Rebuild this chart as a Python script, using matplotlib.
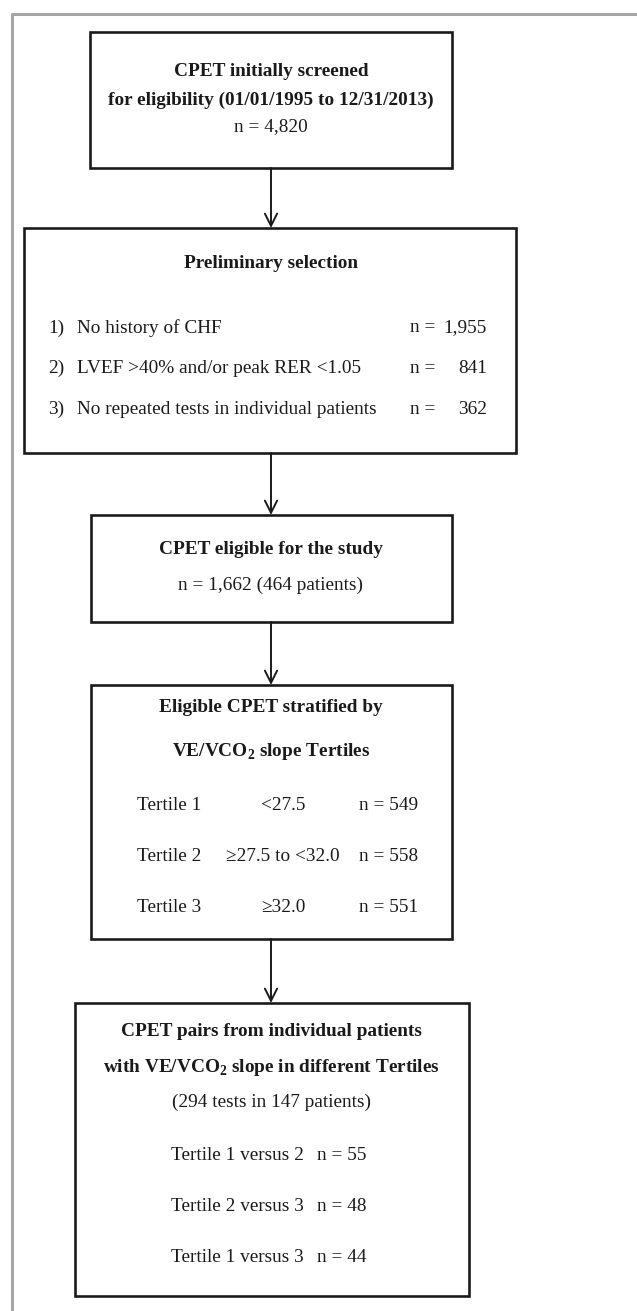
import matplotlib
matplotlib.use('Agg')
import matplotlib.pyplot as plt
from matplotlib.patches import Rectangle

plt.rcParams['font.family'] = ['Liberation Serif', 'DejaVu Serif']
plt.rcParams['mathtext.fontset'] = 'custom'
plt.rcParams['mathtext.rm'] = 'Liberation Serif'
plt.rcParams['mathtext.bf'] = 'Liberation Serif:bold'

# Inhalte der Kästen
screened_title = ['CPET initially screened', 'for eligibility (01/01/1995 to 12/31/2013)']
screened_n = 'n = 4,820'

prelim_title = 'Preliminary selection'
prelim_steps = ['No history of CHF', 'LVEF >40% and/or peak RER <1.05',
                'No repeated tests in individual patients']
prelim_n = ['1,955', '841', '362']

eligible_title = 'CPET eligible for the study'
eligible_n = 'n = 1,662 (464 patients)'

tertile_title = ['Eligible CPET stratified by', r'VE/VCO$_\mathbf{2}$ slope Tertiles']
tertile_names = ['Tertile 1', 'Tertile 2', 'Tertile 3']
tertile_ranges = ['<27.5', '≥27.5 to <32.0', '≥32.0']
tertile_n = [549, 558, 551]

pairs_title = ['CPET pairs from individual patients',
               r'with VE/VCO$_\mathbf{2}$ slope in different Tertiles']
pairs_sub = '(294 tests in 147 patients)'
pairs_names = ['Tertile 1 versus 2', 'Tertile 2 versus 3', 'Tertile 1 versus 3']
pairs_n = [55, 48, 44]

W, H = 637, 1311
fig = plt.figure(figsize=(W / 100, H / 100), dpi=100)
ax = fig.add_axes([0, 0, 1, 1])
ax.set_xlim(0, W)
ax.set_ylim(H, 0)
ax.axis('off')

FS = 13.9
CX = 271

# grauer Rahmen (oben und links)
ax.plot([12, 12, W], [H, 14, 14], color='#a6a6a6', lw=2.2, solid_capstyle='butt')

boxes = [(90, 32, 452, 168), (24, 228, 516, 453), (91, 515, 452, 622),
         (91, 685, 452, 939), (75, 1003, 469, 1296)]
for x0, y0, x1, y1 in boxes:
    ax.add_patch(Rectangle((x0, y0), x1 - x0, y1 - y0, fill=False,
                           ec='#1a1a1a', lw=1.9))

# Pfeile zwischen den Kästen
for (a, b) in zip(boxes[:-1], boxes[1:]):
    ax.annotate('', xy=(CX, b[1]), xytext=(CX, a[3]),
                arrowprops=dict(arrowstyle='->', color='#1a1a1a', lw=1.4,
                                mutation_scale=22, shrinkA=0, shrinkB=0))

def txt(x, y, s, ha='center', bold=False):
    ax.text(x, y, s, ha=ha, va='center', fontsize=FS,
            fontweight='bold' if bold else 'normal', color='#1a1a1a')

# Kasten 1
txt(CX, 72, screened_title[0], bold=True)
txt(CX, 100, screened_title[1], bold=True)
txt(CX, 127, screened_n)

# Kasten 2
txt(CX, 263, prelim_title, bold=True)
for i, (step, n) in enumerate(zip(prelim_steps, prelim_n)):
    y = 328 + i * 40.5
    txt(48, y, f'{i + 1})', ha='left')
    txt(77, y, step, ha='left')
    txt(410, y, 'n =', ha='left')
    txt(487, y, n, ha='right')

# Kasten 3
txt(CX, 550, eligible_title, bold=True)
txt(CX, 585, eligible_n)

# Kasten 4
txt(CX, 708, tertile_title[0], bold=True)
txt(CX, 752, tertile_title[1], bold=True)
for i, (name, rng, n) in enumerate(zip(tertile_names, tertile_ranges, tertile_n)):
    y = 806 + i * 50.5
    txt(137, y, name, ha='left')
    txt(283, y, rng)
    txt(418, y, f'n = {n}', ha='right')

# Kasten 5
txt(CX, 1032, pairs_title[0], bold=True)
txt(CX, 1067, pairs_title[1], bold=True)
txt(CX, 1102, pairs_sub)
for i, (name, n) in enumerate(zip(pairs_names, pairs_n)):
    y = 1156 + i * 50.5
    txt(171, y, name, ha='left')
    txt(317, y, f'n = {n}', ha='left')

fig.savefig('out.png', dpi=100)
